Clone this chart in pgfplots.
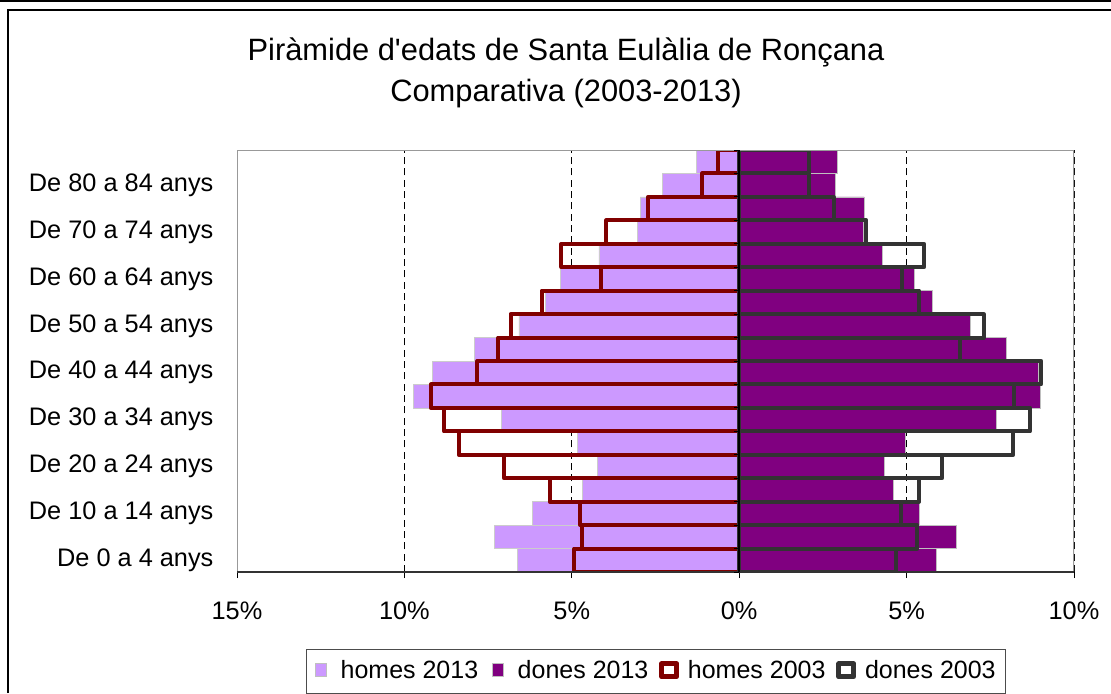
\documentclass[border=0pt]{standalone}
\usepackage{fontspec}
\setmainfont{Liberation Sans}
\usepackage{pgfplots}
\pgfplotsset{compat=1.18}

\definecolor{homesnou}{HTML}{CC99FF}
\definecolor{donesnou}{HTML}{800080}
\definecolor{homesvell}{HTML}{800000}
\definecolor{donesvell}{HTML}{333333}

% age groups: 0 = "De 0 a 4 anys" ... 17 = "85 i mes"
\pgfplotstableread{
g  h13    d13   h03    d03
0  -6.63  5.88  -4.93  4.67
1  -7.32  6.48  -4.70  5.32
2  -6.18  5.39  -4.75  4.84
3  -4.68  4.59  -5.66  5.37
4  -4.24  4.32  -7.03  6.06
5  -4.84  4.97  -8.38  8.19
6  -7.10  7.67  -8.82  8.69
7  -9.74  8.99  -9.21  8.22
8  -9.16  8.94  -7.82  9.02
9  -7.90  7.98  -7.20  6.60
10 -6.58  6.90  -6.83  7.30
11 -5.80  5.76  -5.90  5.37
12 -5.33  5.22  -4.12  4.87
13 -4.19  4.27  -5.31  5.52
14 -3.05  3.70  -3.97  3.80
15 -2.96  3.73  -2.72  2.82
16 -2.30  2.87  -1.10  2.07
17 -1.28  2.94  -0.63  2.07
}\piramide

% legend squares: filled and outlined, same 12pt wide box
\pgfplotsset{
  fillsq/.style={legend image code/.code={
    \path[draw=none, fill=none] (0pt,-4pt) rectangle (12pt,5pt);
    \path[fill=#1, draw=black!25, line width=0.4pt] (1.8pt,-3.4pt) rectangle (8.4pt,4.4pt);}},
  outsq/.style={legend image code/.code={
    \path[draw=none, fill=none] (0pt,-4pt) rectangle (12pt,5pt);
    \path[draw=#1, fill=white, line width=3pt, line join=round] (1.5pt,-3.4pt) rectangle (10.5pt,4.4pt);}},
}

\begin{document}
\begin{tikzpicture}
\useasboundingbox (0pt,0pt) rectangle (666.6pt,415.8pt);
% chart area frame
\draw[line width=1.4pt] (0pt,415.2pt) -- (666.6pt,415.2pt);
\draw[line width=0.7pt] (4.8pt,0pt) -- (4.8pt,409.8pt) -- (666.6pt,409.8pt);
\node[align=center, font=\fontsize{18.5}{24.6}\selectfont] at (339.6pt,372.3pt)
  {Piràmide d\textquotesingle edats de Santa Eulàlia de Ronçana\\Comparativa (2003-2013)};

\begin{axis}[
  at={(142.2pt,72.6pt)}, anchor=south west,
  scale only axis, width=502.2pt, height=253.2pt,
  xmin=-15, xmax=10, ymin=-0.5, ymax=17.5,
  xbar, bar width=1, bar shift=0pt,
  axis line style={draw=none},
  xtick={-15,-10,-5,0,5,10},
  xticklabels={15\%,10\%,5\%,0\%,5\%,10\%},
  xtick pos=lower, tick align=outside,
  x tick style={black, line width=0.6pt}, major tick length=3.6pt,
  xticklabel style={yshift=-10.8pt},
  ytick={0,2,...,16},
  yticklabels={De 0 a 4 anys,De 10 a 14 anys,De 20 a 24 anys,De 30 a 34 anys,
    De 40 a 44 anys,De 50 a 54 anys,De 60 a 64 anys,De 70 a 74 anys,De 80 a 84 anys},
  y tick style={draw=none},
  yticklabel style={xshift=-7pt},
  ticklabel style={font=\fontsize{15.2}{18}\selectfont},
  /pgf/number format/assume math mode=true,
  xmajorgrids, grid style={black, dash pattern=on 4.2pt off 2.6pt, line width=0.6pt},
  legend columns=4,
  legend style={at={(0.5,-0.182)}, anchor=north, draw=black!70, fill=white,
    font=\fontsize{15}{18}\selectfont, inner xsep=3.6pt, inner ysep=5pt,
    /tikz/every odd column/.append style={column sep=3.2pt},
    /tikz/every even column/.append style={column sep=4.5pt}},
]
\addplot[fill=homesnou, draw=black!20, line width=0.4pt, fillsq=homesnou]
  table[x=h13, y=g] {\piramide};
\addplot[fill=donesnou, draw=black!25, line width=0.4pt, fillsq=donesnou]
  table[x=d13, y=g] {\piramide};
\addplot[fill=none, draw=homesvell, line width=2.4pt, line join=round, outsq=homesvell]
  table[x=h03, y=g] {\piramide};
\addplot[fill=none, draw=donesvell, line width=2.4pt, line join=round, outsq=donesvell]
  table[x=d03, y=g] {\piramide};
\legend{homes 2013,dones 2013,homes 2003,dones 2003}
% plot area border and central axis
\draw[black!40, line width=0.8pt] (rel axis cs:0,0) -- (rel axis cs:0,1) -- (rel axis cs:1,1) -- (rel axis cs:1,0);
\draw[black!80, line width=0.9pt] (rel axis cs:0,0) -- (rel axis cs:1,0);
\draw[black, line width=0.9pt] (axis cs:0,-0.5) -- (axis cs:0,17.5);
\pgfplotsinvokeforeach{-0.5,0.5,...,17.5}{
  \draw[black, line width=0.6pt] (axis cs:0,#1) -- ([xshift=-3pt]axis cs:0,#1);
}
\end{axis}
\end{tikzpicture}
\end{document}
